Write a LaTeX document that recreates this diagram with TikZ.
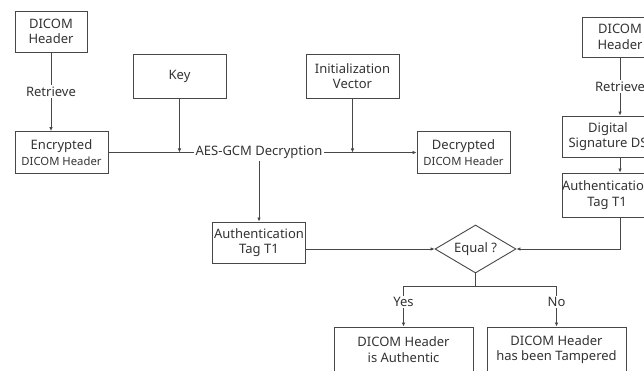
\documentclass[tikz,border=0pt]{standalone}
\usepackage{fontspec}
\setmainfont{Noto Sans}
\usetikzlibrary{positioning,shapes.geometric,arrows.meta}
\def\sm{\fontsize{11.3}{13}\selectfont}

\begin{document}
\begin{tikzpicture}[x=1pt,y=-1pt,on grid,
	line width=0.9pt,draw=black!72,text=black!80,
	>={Latex[length=4pt,width=3.6pt]},
	font=\fontsize{13}{15.5}\selectfont,
	box/.style={draw,rectangle,align=center,inner sep=0pt},
	lbl/.style={fill=white,inner sep=1.5pt},
	test/.style={draw,diamond,inner sep=0pt,shape aspect=1.7,minimum width=81pt,minimum height=48pt}]
\useasboundingbox (0,0) rectangle (644,371);

\node[box,minimum width=72pt,minimum height=41pt]	(hdr_l)		at (51,31.5)		{DICOM\\Header};
\node[box,minimum width=93pt,minimum height=42pt]	(enc)		at (61.5,152.5)		{Encrypted\\{\sm DICOM Header}};
\node[box,minimum width=93pt,minimum height=44pt]	(key)		at (179.5,76)		{Key};
\node[box,minimum width=93pt,minimum height=44pt]	(iv)		at (352.5,76)		{Initialization\\Vector};
\node[inner sep=1.5pt]								(aes)		at (259,152.5)		{AES-GCM Decryption};
\node[box,minimum width=93pt,minimum height=42pt]	(dec)		at (463.5,152.5)	{Decrypted\\{\sm DICOM Header}};
\node[box,minimum width=93pt,minimum height=41pt]	(tag_l)		[below=90pt of aes]	{Authentication\\Tag T1};
\node[test]											(eq)		at (475.5,249)		{Equal ?};
\node[box,minimum width=76pt,minimum height=40pt]	(hdr_r)		at (620,37)			{DICOM\\Header};
\node[box,minimum width=92pt,minimum height=41pt]	(ds)		at (608,136.5)		{Digital\\Signature DS};
\node[box,minimum width=90pt,minimum height=44pt]	(tag_r)		at (607,195)		{Authentication\\Tag T1};
\node[box,minimum width=139pt,minimum height=45pt]	(ok)		at (403.5,349.5)	{DICOM Header\\is Authentic};
\node[box,minimum width=139pt,minimum height=45pt]	(bad)		at (556.5,349.5)	{DICOM Header\\has been Tampered};
\coordinate											(split)		at (475.5,286);

\path[->]
(hdr_l)					edge	node[lbl]	{Retrieve}	(hdr_l |- enc.north)
(key)					edge							(key |- aes)
(iv)					edge							(iv |- aes)
(aes)					edge							(dec)
						edge							(tag_l)
(tag_l.east |- eq)		edge							(eq)
(hdr_r)					edge	node[lbl]	{Retrieve}	(hdr_r |- ds.north)
(hdr_r |- ds.south)		edge							(hdr_r |- tag_r.north)
;
\draw (enc) -- (aes);
\draw[->] (hdr_r |- tag_r.south) |- (eq);
\draw (eq) -- (split);
\draw[->] (split) -| node[lbl,pos=0.7] {Yes} (ok.north);
\draw[->] (split) -| node[lbl,pos=0.7] {No} (bad.north);
\end{tikzpicture}
\end{document}
